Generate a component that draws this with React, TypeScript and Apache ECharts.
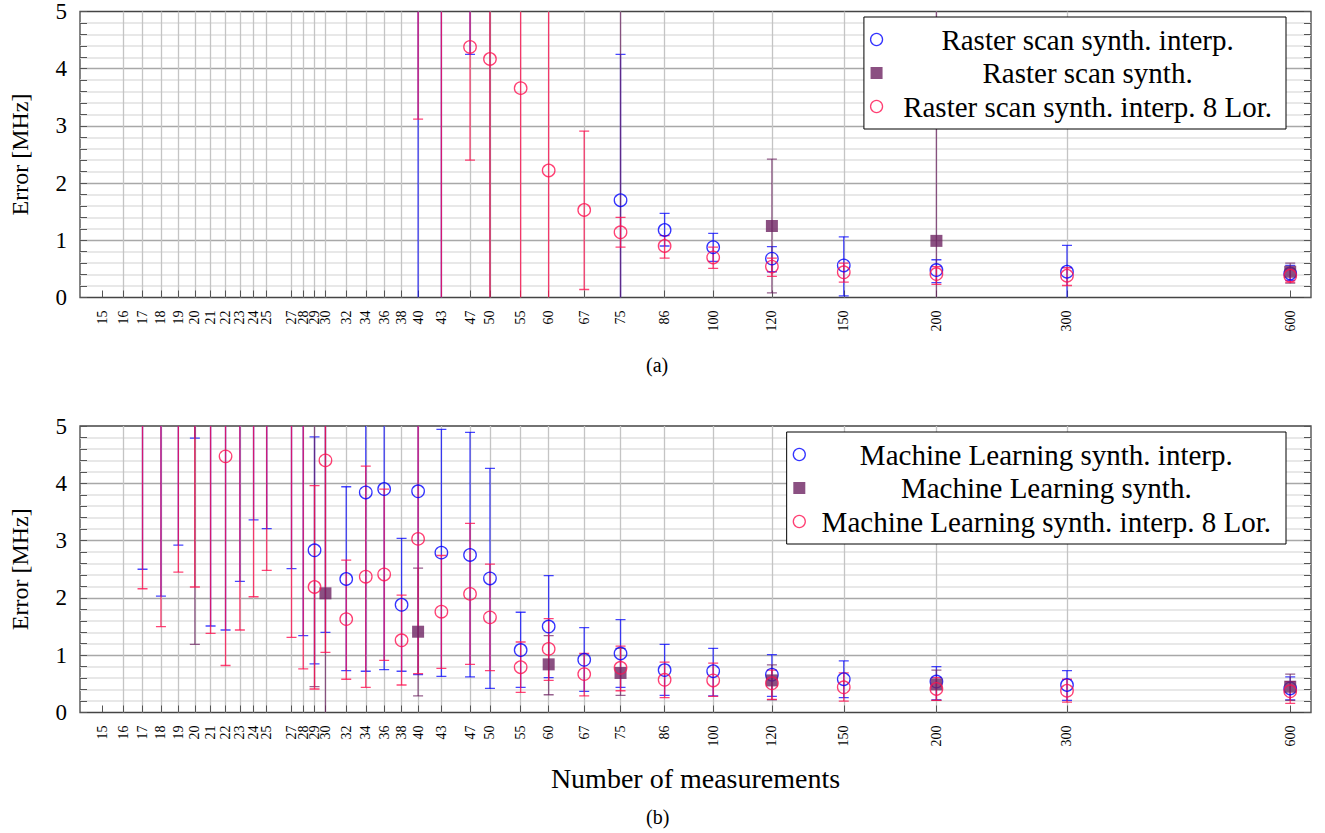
import React, { useEffect, useRef } from "react";
import * as echarts from "echarts";

// ---------- axis definition ----------
const X_TICKS = [15, 16, 17, 18, 19, 20, 21, 22, 23, 24, 25, 27, 28, 29, 30, 32, 34, 36, 38, 40, 43, 47, 50, 55, 60, 67, 75, 86, 100, 120, 150, 200, 300, 600];
const X_MIN = 14;
const X_MAX = 640;
const Y_MIN = 0;
const Y_MAX = 5;
const Y_TICKS = [0, 1, 2, 3, 4, 5];

// ---------- panel (a): Raster scan ----------
const A_NAMES = ["Raster scan synth. interp.", "Raster scan synth.", "Raster scan synth. interp. 8 Lor."];

const A_INTERP_X = [40, 43, 47, 75, 86, 100, 120, 150, 200, 300, 600];
const A_INTERP_MEAN = [6.5, 7, 7, 1.70, 1.18, 0.88, 0.68, 0.56, 0.48, 0.45, 0.42];
const A_INTERP_LOW = [-2, -1, 4.25, -0.85, 0.90, 0.63, 0.45, 0.03, 0.26, -0.05, 0.30];
const A_INTERP_HIGH = [15, 15, 10, 4.25, 1.47, 1.12, 0.89, 1.06, 0.66, 0.91, 0.56];

const A_SYNTH_X = [50, 75, 120, 200, 600];
const A_SYNTH_MEAN = [9, 7, 1.25, 0.99, 0.45];
const A_SYNTH_LOW = [-3, -1, 0.08, -0.6, 0.25];
const A_SYNTH_HIGH = [21, 15, 2.42, 6, 0.60];

const A_LOR_X = [40, 43, 47, 50, 55, 60, 67, 75, 86, 100, 120, 150, 200, 300, 600];
const A_LOR_MEAN = [8, 9, 4.38, 4.17, 3.66, 2.22, 1.53, 1.14, 0.90, 0.70, 0.54, 0.44, 0.41, 0.38, 0.38];
const A_LOR_LOW = [3.12, -2, 2.40, -1, -0.6, -1.5, 0.14, 0.88, 0.69, 0.51, 0.37, 0.27, 0.23, 0.21, 0.27];
const A_LOR_HIGH = [13, 20, 6.4, 9.3, 7.9, 6.0, 2.91, 1.40, 1.08, 0.88, 0.69, 0.60, 0.54, 0.52, 0.50];

// ---------- panel (b): Machine Learning ----------
const B_NAMES = ["Machine Learning synth. interp.", "Machine Learning synth.", "Machine Learning synth. interp. 8 Lor."];

const B_INTERP_X = [17, 18, 19, 20, 21, 22, 23, 24, 25, 27, 28, 29, 30, 32, 34, 36, 38, 40, 43, 47, 50, 55, 60, 67, 75, 86, 100, 120, 150, 200, 300, 600];
const B_INTERP_MEAN = [8, 8, 8, 8, 8, 8, 8, 8, 8, 8, 8, 2.83, 8, 2.33, 3.84, 3.90, 1.88, 3.86, 2.79, 2.75, 2.34, 1.09, 1.50, 0.92, 1.03, 0.74, 0.72, 0.66, 0.58, 0.54, 0.48, 0.42];
const B_INTERP_LOW = [2.50, 2.03, 2.92, 4.79, 1.51, 1.44, 2.29, 3.36, 3.21, 2.51, 1.34, 0.85, 1.40, 0.73, 0.72, 0.75, 0.72, 0.66, 0.63, 0.62, 0.42, 0.44, 0.61, 0.37, 0.44, 0.30, 0.29, 0.28, 0.26, 0.22, 0.21, 0.22];
const B_INTERP_HIGH = [14, 14, 14, 12, 14, 14, 14, 14, 14, 14, 14, 4.81, 14, 3.94, 7, 7, 3.04, 7, 4.94, 4.89, 4.26, 1.75, 2.39, 1.48, 1.62, 1.19, 1.12, 1.01, 0.90, 0.80, 0.73, 0.62];

const B_SYNTH_X = [20, 29, 30, 40, 60, 75, 120, 200, 600];
const B_SYNTH_MEAN = [8, 8, 2.08, 1.41, 0.84, 0.69, 0.56, 0.49, 0.45];
const B_SYNTH_LOW = [1.19, 0.45, -0.5, 0.29, 0.31, 0.30, 0.22, 0.21, 0.21];
const B_SYNTH_HIGH = [14, 14, 6, 2.52, 1.34, 1.12, 0.83, 0.74, 0.67];

const B_LOR_X = [17, 18, 19, 20, 21, 22, 23, 24, 25, 27, 28, 29, 30, 32, 34, 36, 38, 40, 43, 47, 50, 55, 60, 67, 75, 86, 100, 120, 150, 200, 300, 600];
const B_LOR_MEAN = [8, 8, 8, 8, 8, 4.47, 8, 8, 8, 8, 8, 2.19, 4.40, 1.63, 2.37, 2.41, 1.26, 3.03, 1.76, 2.07, 1.66, 0.79, 1.11, 0.67, 0.78, 0.57, 0.56, 0.51, 0.44, 0.41, 0.38, 0.37];
const B_LOR_LOW = [2.16, 1.50, 2.45, 2.19, 1.38, 0.82, 1.44, 2.02, 2.48, 1.31, 0.76, 0.41, 1.05, 0.58, 0.44, 0.91, 0.48, 0.68, 0.77, 0.84, 0.73, 0.35, 0.56, 0.29, 0.38, 0.26, 0.28, 0.23, 0.20, 0.21, 0.18, 0.16];
const B_LOR_HIGH = [14, 14, 14, 14, 14, 8, 14, 14, 14, 14, 14, 3.96, 8, 2.66, 4.30, 3.90, 2.05, 6, 2.74, 3.30, 2.59, 1.23, 1.64, 1.03, 1.16, 0.88, 0.86, 0.74, 0.69, 0.61, 0.58, 0.54];

// ---------- styles ----------
const BLUE = "#0000ff";
const PURPLE = "#6e2463";
const RED = "#ff1050";
const BLUE_BAR = "rgba(0,0,255,0.72)";
const PURPLE_BAR = "rgba(110,36,99,0.72)";
const RED_BAR = "rgba(255,16,80,0.78)";
const SERIF = "Liberation Serif, serif";

const lg = (v: number) => Math.log10(v);

function errorSeries(id: string, gi: number, xs: number[], lows: number[], highs: number[], color: string) {
  return {
    type: "custom",
    id,
    xAxisIndex: gi,
    yAxisIndex: gi * 2,
    clip: true,
    silent: true,
    data: xs.map((x, i) => [lg(x), lows[i], highs[i]]),
    encode: { x: 0, y: [1, 2] },
    renderItem: (params: any, api: any) => {
      const x = api.value(0);
      const lo = api.value(1);
      const hi = api.value(2);
      const pLo = api.coord([x, Math.max(lo, Y_MIN)]);
      const pHi = api.coord([x, Math.min(hi, Y_MAX)]);
      const st = { stroke: color, lineWidth: 1.3, fill: null };
      const children: any[] = [
        { type: "line", shape: { x1: pLo[0], y1: pLo[1], x2: pHi[0], y2: pHi[1] }, style: st },
      ];
      if (lo >= Y_MIN) children.push({ type: "line", shape: { x1: pLo[0] - 5, y1: pLo[1], x2: pLo[0] + 5, y2: pLo[1] }, style: st });
      if (hi <= Y_MAX) children.push({ type: "line", shape: { x1: pHi[0] - 5, y1: pHi[1], x2: pHi[0] + 5, y2: pHi[1] }, style: st });
      return { type: "group", children };
    },
  };
}

function markerSeries(name: string, gi: number, xs: number[], means: number[], color: string, filled: boolean) {
  return {
    type: "scatter",
    name,
    xAxisIndex: gi,
    yAxisIndex: gi * 2,
    clip: true,
    symbol: filled ? "rect" : "circle",
    symbolSize: filled ? 12 : 12.5,
    itemStyle: filled
      ? { color, borderWidth: 0 }
      : { color: "rgba(255,255,255,0)", borderColor: color, borderWidth: 1.3 },
    emphasis: { disabled: true },
    data: xs.map((x, i) => [lg(x), means[i]]),
  };
}

function xAxis(gi: number, withName: boolean) {
  return {
    type: "value",
    gridIndex: gi,
    min: lg(X_MIN),
    max: lg(X_MAX),
    axisLine: { show: false },
    axisTick: { show: true, inside: true, length: 7, customValues: X_TICKS.map(lg), lineStyle: { color: "#555", width: 1 } },
    axisLabel: {
      customValues: X_TICKS.map(lg),
      formatter: (v: number) => String(Math.round(Math.pow(10, v))),
      rotate: 90,
      margin: 13,
      fontFamily: SERIF,
      fontSize: 14,
      color: "#000",
    },
    splitLine: { show: true, showMinLine: false, showMaxLine: false, lineStyle: { color: "#c4c4c4", width: 1.3 } },
    name: withName ? "Number of measurements" : "",
    nameLocation: "middle",
    nameGap: 52,
    nameTextStyle: { fontFamily: SERIF, fontSize: 28, color: "#000" },
  };
}

function yAxes(gi: number) {
  const left = {
    type: "value",
    gridIndex: gi,
    position: "left",
    min: Y_MIN,
    max: Y_MAX,
    interval: 1,
    axisLine: { show: false },
    axisTick: { show: true, inside: true, length: 7, lineStyle: { color: "#555" } },
    minorTick: { show: true, splitNumber: 5, length: 7, lineStyle: { color: "#555" } },
    axisLabel: {
      fontFamily: SERIF, fontSize: 23, color: "#000", margin: 13,
      customValues: Y_TICKS,
    },
    splitLine: { show: true, showMinLine: false, showMaxLine: false, lineStyle: { color: "#a8a8a8", width: 1.3 } },
    minorSplitLine: { show: true, lineStyle: { color: "#e0e0e0", width: 1.5 } },
    name: "Error [MHz]",
    nameLocation: "middle",
    nameRotate: 90,
    nameGap: 48,
    nameTextStyle: { fontFamily: SERIF, fontSize: 24, color: "#000" },
  };
  const right = {
    type: "value",
    gridIndex: gi,
    position: "right",
    min: Y_MIN,
    max: Y_MAX,
    interval: 1,
    axisLine: { show: false },
    axisTick: { show: true, inside: true, length: 7, lineStyle: { color: "#555" } },
    minorTick: { show: true, splitNumber: 5, length: 7, lineStyle: { color: "#555" } },
    axisLabel: { show: false },
    splitLine: { show: false },
  };
  return [left, right];
}

function legend(names: string[], top: number, textWidth: number, padRight: number) {
  const styles = [
    { icon: "circle", itemStyle: { color: "rgba(255,255,255,0)", borderColor: BLUE, borderWidth: 1.3 } },
    { icon: "rect", itemStyle: { color: PURPLE, borderWidth: 0 } },
    { icon: "circle", itemStyle: { color: "rgba(255,255,255,0)", borderColor: RED, borderWidth: 1.3 } },
  ];
  return {
    orient: "vertical",
    right: 39,
    top,
    selectedMode: false,
    backgroundColor: "#fff",
    borderColor: "#000",
    borderWidth: 1,
    borderRadius: 0,
    padding: [8, padRight, 8, 6],
    itemGap: 4.5,
    itemWidth: 12,
    itemHeight: 12,
    data: names.map((n, i) => ({ name: n, ...styles[i] })),
    formatter: (n: string) => `{c|${n}}`,
    textStyle: {
      fontFamily: SERIF,
      fontSize: 29,
      color: "#000",
      rich: { c: { width: textWidth, align: "center", fontFamily: SERIF, fontSize: 29, color: "#000" } },
    },
  };
}

export default function App() {
  const ref = useRef<HTMLDivElement>(null);
  useEffect(() => {
    if (!ref.current) return;
    const chart = echarts.init(ref.current, null, { renderer: "svg" });
    const gridCommon = { left: 75, right: 14, height: 286.5, show: true, borderColor: "#444", borderWidth: 1.3, backgroundColor: "transparent" };
    chart.setOption({
      animation: false,
      backgroundColor: "#fff",
      grid: [
        { ...gridCommon, top: 11 },
        { ...gridCommon, top: 426 },
      ],
      xAxis: [xAxis(0, false), xAxis(1, true)],
      yAxis: [...yAxes(0), ...yAxes(1)],
      legend: [legend(A_NAMES, 17, 400, 14), legend(B_NAMES, 432, 472, 15)],
      graphic: [
        { type: "text", left: 646, top: 355, style: { text: "(a)", fontFamily: SERIF, fontSize: 20, fill: "#000" } },
        { type: "text", left: 646, top: 807, style: { text: "(b)", fontFamily: SERIF, fontSize: 20, fill: "#000" } },
      ],
      series: [
        errorSeries("a-interp-err", 0, A_INTERP_X, A_INTERP_LOW, A_INTERP_HIGH, BLUE_BAR),
        markerSeries(A_NAMES[0], 0, A_INTERP_X, A_INTERP_MEAN, BLUE, false),
        errorSeries("a-synth-err", 0, A_SYNTH_X, A_SYNTH_LOW, A_SYNTH_HIGH, PURPLE_BAR),
        markerSeries(A_NAMES[1], 0, A_SYNTH_X, A_SYNTH_MEAN, PURPLE, true),
        errorSeries("a-lor-err", 0, A_LOR_X, A_LOR_LOW, A_LOR_HIGH, RED_BAR),
        markerSeries(A_NAMES[2], 0, A_LOR_X, A_LOR_MEAN, RED, false),
        errorSeries("b-interp-err", 1, B_INTERP_X, B_INTERP_LOW, B_INTERP_HIGH, BLUE_BAR),
        markerSeries(B_NAMES[0], 1, B_INTERP_X, B_INTERP_MEAN, BLUE, false),
        errorSeries("b-synth-err", 1, B_SYNTH_X, B_SYNTH_LOW, B_SYNTH_HIGH, PURPLE_BAR),
        markerSeries(B_NAMES[1], 1, B_SYNTH_X, B_SYNTH_MEAN, PURPLE, true),
        errorSeries("b-lor-err", 1, B_LOR_X, B_LOR_LOW, B_LOR_HIGH, RED_BAR),
        markerSeries(B_NAMES[2], 1, B_LOR_X, B_LOR_MEAN, RED, false),
      ],
    });
    return () => chart.dispose();
  }, []);
  return <div ref={ref} style={{ position: "absolute", left: 0, top: 0, width: 1325, height: 833 }} />;
}
